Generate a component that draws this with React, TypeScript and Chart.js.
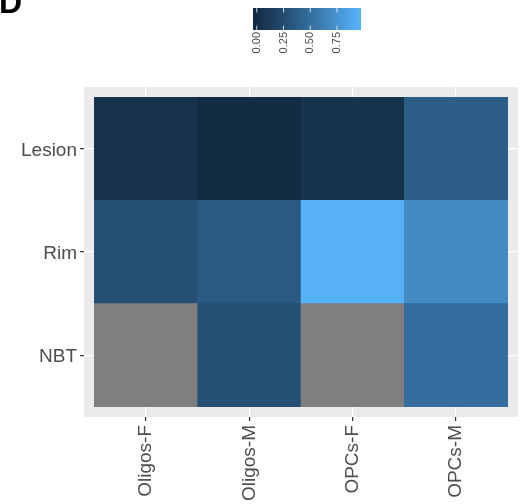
import { useEffect, useRef } from "react";
import { Chart, registerables } from "chart.js";

Chart.register(...registerables);

// Heatmap layout: columns along x, rows along y (bottom to top)
const columns = ["Oligos-F", "Oligos-M", "OPCs-F", "OPCs-M"];
const rows = ["NBT", "Rim", "Lesion"];

// Cell values per row (null = missing)
const nbtValues: (number | null)[] = [null, 0.28, null, 0.5];
const rimValues: (number | null)[] = [0.27, 0.345, 0.95, 0.7];
const lesionValues: (number | null)[] = [0.05, -0.01, 0.06, 0.38];

const legendTicks = [0, 0.25, 0.5, 0.75];

const lowColour = "#132B43";
const highColour = "#56B1F7";
const naColour = "#7F7F7F";
const FONT = "'Liberation Sans', Arial, Helvetica, sans-serif";

const rowValues = [nbtValues, rimValues, lesionValues];
const allValues = rowValues.flat().filter((v): v is number => v !== null);
const vMin = Math.min(...allValues);
const vMax = Math.max(...allValues);

// --- colour ramp interpolated in CIELAB ---
function hexToRgb(h: string): number[] {
  const n = parseInt(h.slice(1), 16);
  return [(n >> 16) & 255, (n >> 8) & 255, n & 255];
}
function toLinear(c: number) {
  c /= 255;
  return c <= 0.04045 ? c / 12.92 : Math.pow((c + 0.055) / 1.055, 2.4);
}
function fromLinear(c: number) {
  const v = c <= 0.0031308 ? 12.92 * c : 1.055 * Math.pow(c, 1 / 2.4) - 0.055;
  return Math.round(Math.max(0, Math.min(1, v)) * 255);
}
const WX = 0.95047, WY = 1, WZ = 1.08883;
function rgbToLab(rgb: number[]): number[] {
  const [r, g, b] = rgb.map(toLinear);
  const X = (0.4124564 * r + 0.3575761 * g + 0.1804375 * b) / WX;
  const Y = (0.2126729 * r + 0.7151522 * g + 0.072175 * b) / WY;
  const Z = (0.0193339 * r + 0.119192 * g + 0.9503041 * b) / WZ;
  const f = (t: number) => (t > 0.008856 ? Math.cbrt(t) : 7.787 * t + 16 / 116);
  const fx = f(X), fy = f(Y), fz = f(Z);
  return [116 * fy - 16, 500 * (fx - fy), 200 * (fy - fz)];
}
function labToRgb(lab: number[]): number[] {
  const [L, a, b] = lab;
  const fy = (L + 16) / 116;
  const fx = fy + a / 500;
  const fz = fy - b / 200;
  const inv = (t: number) => (t * t * t > 0.008856 ? t * t * t : (t - 16 / 116) / 7.787);
  const X = inv(fx) * WX, Y = inv(fy) * WY, Z = inv(fz) * WZ;
  const r = 3.2404542 * X - 1.5371385 * Y - 0.4985314 * Z;
  const g = -0.969266 * X + 1.8760108 * Y + 0.041556 * Z;
  const bl = 0.0556434 * X - 0.2040259 * Y + 1.0572252 * Z;
  return [fromLinear(r), fromLinear(g), fromLinear(bl)];
}
const labLow = rgbToLab(hexToRgb(lowColour));
const labHigh = rgbToLab(hexToRgb(highColour));
function ramp(t: number): string {
  const c = labToRgb(labLow.map((l, i) => l + (labHigh[i] - l) * t));
  return `rgb(${c[0]},${c[1]},${c[2]})`;
}
function fillFor(v: number | null): string {
  if (v === null) return naColour;
  return ramp((v - vMin) / (vMax - vMin));
}

// Panel background (ggplot grey)
const panelPlugin = {
  id: "panelBackground",
  beforeDraw(chart: any) {
    const { ctx, chartArea: a } = chart;
    ctx.save();
    ctx.fillStyle = "#EBEBEB";
    ctx.fillRect(a.left, a.top, a.right - a.left, a.bottom - a.top);
    ctx.restore();
  },
};

// Colour bar legend and panel tag
const legendPlugin = {
  id: "colourBar",
  afterDraw(chart: any) {
    const ctx: CanvasRenderingContext2D = chart.ctx;
    const barLeft = 253, barTop = 8, barW = 108, barH = 22;
    const inset = barW / 40;
    const span = barW - 2 * inset;
    ctx.save();
    for (let i = 0; i < barW; i++) {
      const px = barLeft + i + 0.5;
      const t = Math.max(0, Math.min(1, (px - barLeft - inset) / span));
      ctx.fillStyle = ramp(t);
      ctx.fillRect(barLeft + i, barTop, 1, barH);
    }
    ctx.strokeStyle = "#FFFFFF";
    ctx.lineWidth = 0.8;
    ctx.font = `11px ${FONT}`;
    ctx.fillStyle = "#4D4D4D";
    for (const v of legendTicks) {
      const x = barLeft + inset + ((v - vMin) / (vMax - vMin)) * span;
      ctx.beginPath();
      ctx.moveTo(x, barTop);
      ctx.lineTo(x, barTop + barH / 5);
      ctx.moveTo(x, barTop + barH);
      ctx.lineTo(x, barTop + (barH * 4) / 5);
      ctx.stroke();
      ctx.save();
      ctx.translate(x, barTop + barH + 2);
      ctx.rotate(-Math.PI / 2);
      ctx.textAlign = "right";
      ctx.textBaseline = "middle";
      ctx.fillText(v.toFixed(2), 0, 0);
      ctx.restore();
    }
    ctx.fillStyle = "#000000";
    ctx.font = `bold 32px ${FONT}`;
    ctx.textAlign = "left";
    ctx.textBaseline = "alphabetic";
    ctx.fillText("D", -1, 13);
    ctx.restore();
  },
};

export default function App() {
  const canvasRef = useRef<HTMLCanvasElement | null>(null);

  useEffect(() => {
    if (!canvasRef.current) return;
    const datasets = rowValues.map((vals, r) => ({
      label: rows[r],
      data: columns.map((_, c) => ({ x: c + 1, y: [r + 0.5, r + 1.5] })),
      backgroundColor: vals.map(fillFor),
      borderWidth: 0,
      grouped: false,
      barPercentage: 1,
      categoryPercentage: 1,
    }));

    const tickFont = { family: FONT, size: 19 };
    const chart = new Chart(canvasRef.current, {
      type: "bar",
      data: { datasets: datasets as any },
      plugins: [panelPlugin, legendPlugin],
      options: {
        animation: false,
        responsive: false,
        devicePixelRatio: 1,
        events: [],
        layout: { padding: { top: 87, right: 14, left: 0, bottom: 0 } },
        plugins: { legend: { display: false }, tooltip: { enabled: false } },
        scales: {
          x: {
            type: "linear",
            min: 0.4,
            max: 4.6,
            offset: false,
            afterBuildTicks: (scale: any) => {
              scale.ticks = columns.map((_, i) => ({ value: i + 1 }));
            },
            afterFit: (scale: any) => {
              scale.height = 87;
            },
            ticks: {
              autoSkip: false,
              maxRotation: 90,
              minRotation: 90,
              padding: 4,
              color: "#4D4D4D",
              font: tickFont,
              callback: (v: any) => columns[Math.round(Number(v)) - 1] ?? "",
            },
            grid: {
              offset: false,
              color: "#FFFFFF",
              lineWidth: 1.2,
              tickColor: "#333333",
              tickLength: 4,
            },
            border: { display: false },
          },
          y: {
            type: "linear",
            min: 0.4,
            max: 3.6,
            afterBuildTicks: (scale: any) => {
              scale.ticks = rows.map((_, i) => ({ value: i + 1 }));
            },
            afterFit: (scale: any) => {
              scale.width = 84;
            },
            ticks: {
              autoSkip: false,
              padding: 3,
              labelOffset: 1.5,
              color: "#4D4D4D",
              font: tickFont,
              callback: (v: any) => rows[Math.round(Number(v)) - 1] ?? "",
            },
            grid: {
              color: "#FFFFFF",
              lineWidth: 1.2,
              tickColor: "#333333",
              tickLength: 4,
            },
            border: { display: false },
          },
        },
      } as any,
    });
    return () => chart.destroy();
  }, []);

  return (
    <div style={{ position: "fixed", left: 0, top: 0, width: 532, height: 504, background: "#FFFFFF" }}>
      <canvas ref={canvasRef} width={532} height={504} />
    </div>
  );
}
